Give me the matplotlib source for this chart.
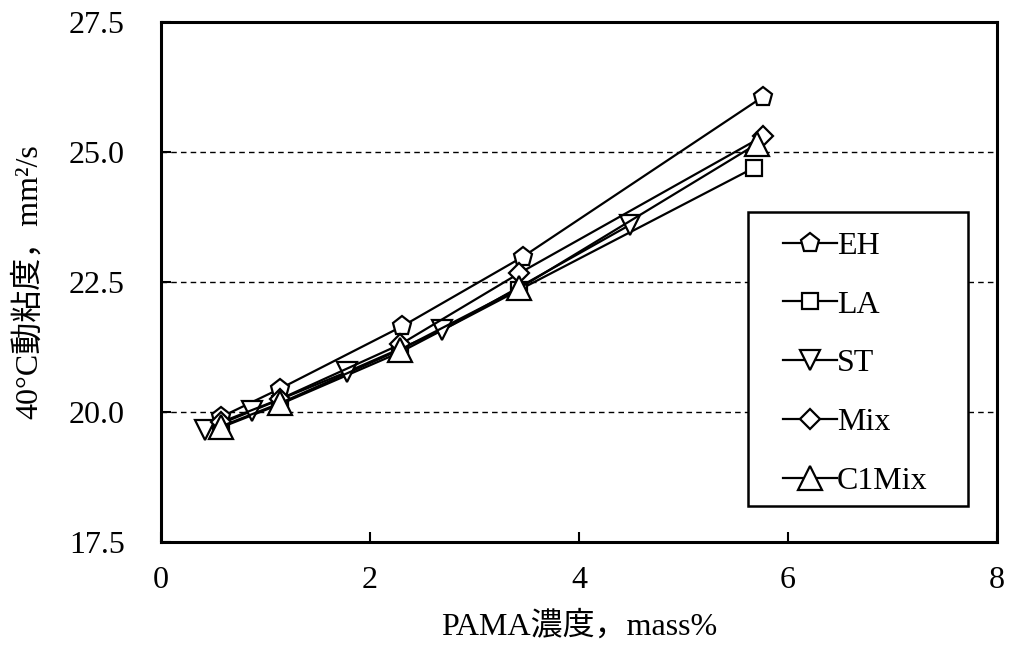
import matplotlib.pyplot as plt
from matplotlib.patches import Rectangle
import numpy as np

plt.rcParams["font.family"] = ["Liberation Serif", "Noto Sans CJK JP"]

# data
x_eh = [0.57, 1.14, 2.31, 3.46, 5.76]
y_eh = [19.9, 20.45, 21.65, 22.98, 26.06]
x_la = [0.57, 1.14, 2.29, 3.43, 5.68]
y_la = [19.7, 20.15, 21.15, 22.35, 24.7]
x_st = [0.42, 0.87, 1.78, 2.69, 4.49]
y_st = [19.65, 20.02, 20.77, 21.57, 23.6]
x_mix = [0.57, 1.14, 2.29, 3.43, 5.76]
y_mix = [19.8, 20.25, 21.3, 22.67, 25.3]
x_c1 = [0.57, 1.14, 2.29, 3.43, 5.70]
y_c1 = [19.72, 20.17, 21.2, 22.38, 25.15]

fig = plt.figure(figsize=(10.13, 6.46), dpi=100)
ax = fig.add_axes([0.159, 0.161, 0.825, 0.805])

for yv in [20.0, 22.5, 25.0]:
    ax.axhline(yv, color="black", lw=1.0, ls=(0, (4, 3)), zorder=1)

kw = dict(color="black", lw=1.6, mfc="white", mec="black", mew=1.6, zorder=3)
ax.plot(x_eh, y_eh, marker="p", ms=14, label="EH", **kw)
ax.plot(x_la, y_la, marker="s", ms=12, label="LA", **kw)
ax.plot(x_st, y_st, marker="v", ms=14, label="ST", **kw)
ax.plot(x_mix, y_mix, marker="D", ms=10, label="Mix", **kw)
ax.plot(x_c1, y_c1, marker="^", ms=17, label="C1Mix", **kw)

ax.set_xlim(0, 8)
ax.set_ylim(17.5, 27.5)
ax.set_xticks([0, 2, 4, 6, 8])
ax.set_yticks(np.arange(17.5, 27.6, 2.5))
ax.set_yticklabels(["17.5", "20.0", "22.5", "25.0", "27.5"])
ax.tick_params(direction="in", length=7, width=1.5, labelsize=23)
ax.tick_params(axis="x", pad=17)
ax.tick_params(axis="y", pad=26)
for s in ax.spines.values():
    s.set_linewidth(2.2)

ax.set_xlabel("PAMA濃度，mass%", fontsize=23, labelpad=12)
ax.set_ylabel("40°C動粘度，mm²/s", fontsize=23, labelpad=18)

# legend frame drawn as a box, entries placed inside
ax.add_patch(Rectangle((0.702, 0.069), 0.263, 0.566, transform=ax.transAxes,
                       fc="white", ec="black", lw=1.8, zorder=4))
leg = ax.legend(loc="upper left", bbox_to_anchor=(0.744, 0.597), fontsize=23,
                handlelength=1.7, handletextpad=0.0, labelspacing=0.92,
                borderpad=0, frameon=False, borderaxespad=0)
leg.set_zorder(5)

fig.savefig("out.png", dpi=100)
